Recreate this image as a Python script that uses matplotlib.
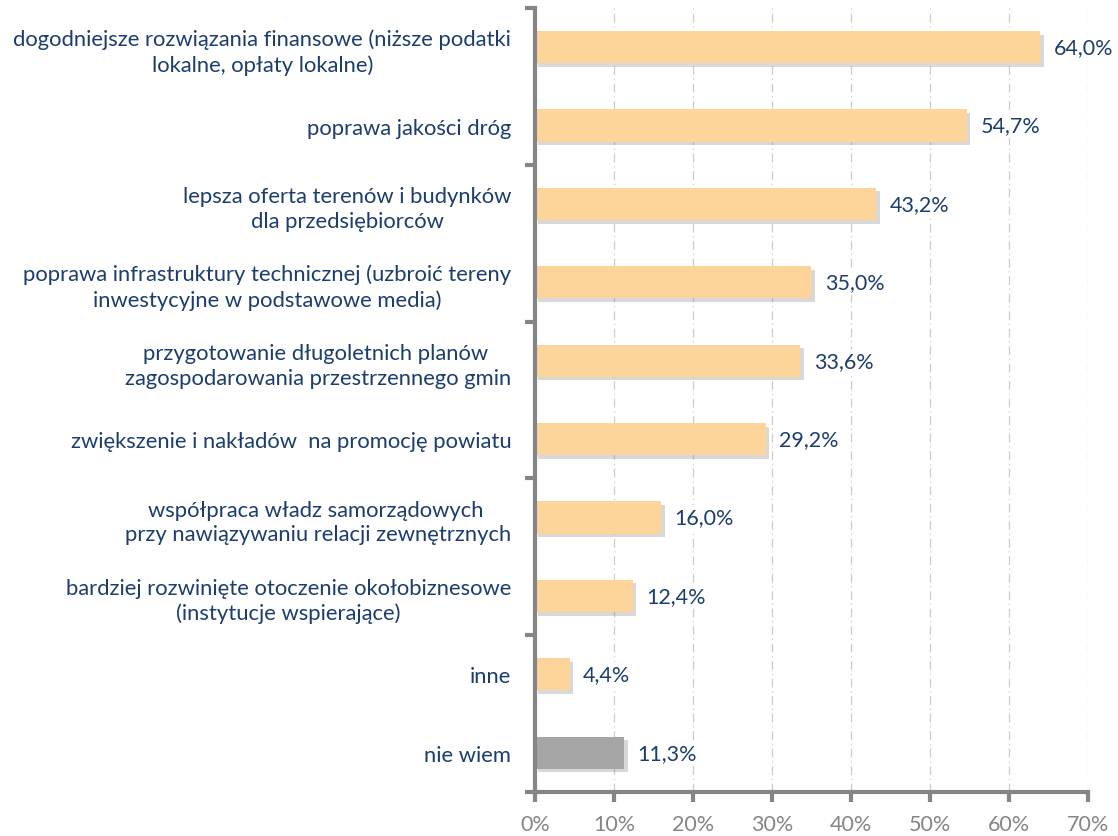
import numpy as np
import matplotlib as mpl
import matplotlib.pyplot as plt
import matplotlib.patheffects as pe

plt.rcParams['font.family'] = ['Lato', 'DejaVu Sans']

# answers, top to bottom
labels = ['dogodniejsze rozwiązania finansowe (niższe podatki\nlokalne, opłaty lokalne)',
          'poprawa jakości dróg',
          'lepsza oferta terenów i budynków\ndla przedsiębiorców',
          'poprawa infrastruktury technicznej (uzbroić tereny\ninwestycyjne w podstawowe media)',
          'przygotowanie długoletnich planów \nzagospodarowania przestrzennego gmin',
          'zwiększenie i nakładów  na promocję powiatu',
          'współpraca władz samorządowych \nprzy nawiązywaniu relacji zewnętrznych',
          'bardziej rozwinięte otoczenie okołobiznesowe\n(instytucje wspierające)',
          'inne',
          'nie wiem']
values = [64.0, 54.7, 43.2, 35.0, 33.6, 29.2, 16.0, 12.4, 4.4, 11.3]
colors = ['#FDD59B'] * 9 + ['#A5A5A5']

text_col = '#1C3D6E'
axis_col = '#858585'

fig = plt.figure(figsize=(11.18, 8.37), dpi=100)
ax = fig.add_axes([0.4785, 0.0526, 0.4945, 0.9367])

y = np.arange(len(values))
bars = ax.barh(y, values, height=0.41, color=colors, zorder=3)
for b in bars:
    b.set_path_effects([pe.SimplePatchShadow(offset=(2.5, -2.5), shadow_rgbFace='#909090', alpha=0.35),
                        pe.Normal()])

for yi, v in zip(y, values):
    ax.text(v + 1.7, yi, f'{v:.1f}%'.replace('.', ','), va='center', ha='left',
            fontsize=15.5, color=text_col, zorder=4,
            bbox=dict(facecolor='white', edgecolor='none', pad=1.5))

ax.set_xlim(0, 70)
ax.set_ylim(len(values) - 0.5, -0.5)
ax.set_xticks(np.arange(0, 71, 10))
ax.set_xticklabels([f'{t}%' for t in range(0, 71, 10)], fontsize=15.5, color=axis_col)
ax.set_yticks(y)
ax.set_yticklabels(labels, fontsize=15.8, color=text_col, multialignment='center', linespacing=1.3)
ax.tick_params(axis='y', which='major', length=0, pad=17)
ax.yaxis.set_minor_locator(mpl.ticker.FixedLocator(np.arange(-0.5, len(values), 2)))
ax.tick_params(axis='y', which='minor', length=7, width=3, color=axis_col, direction='out')
ax.tick_params(axis='x', length=7, width=3, color=axis_col, direction='out', pad=9)

ax.grid(axis='x', color='#CCCCCC', linestyle=(0, (7, 3, 1, 3)), linewidth=0.9, zorder=0)
for s in ['top', 'right']:
    ax.spines[s].set_visible(False)
for s in ['left', 'bottom']:
    ax.spines[s].set_color(axis_col)
    ax.spines[s].set_linewidth(3)
    ax.spines[s].set_zorder(5)

fig.savefig('out.png', dpi=100)
